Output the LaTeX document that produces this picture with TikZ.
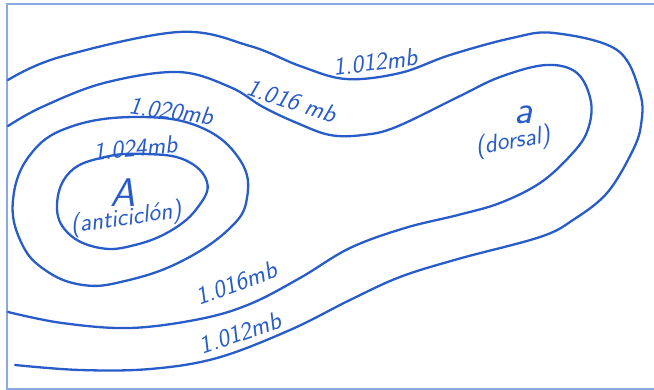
\documentclass[tikz,border=0pt]{standalone}
\usepackage{tikz}
\usetikzlibrary{
  positioning % 节点相对定位
}
\definecolor{isoblue}{RGB}{40,92,200}
\definecolor{frameblue}{RGB}{140,168,225}

\begin{document}
\begin{tikzpicture}[x=1pt, y=-1pt,
  isoline/.style={line width=2.3pt, isoblue, line cap=round, line join=round},
  isolabel/.style={text=isoblue, inner sep=0pt, font=\sffamily\itshape\fontsize{25}{27}\selectfont},
  centrename/.style={text=isoblue, inner sep=0pt, font=\sffamily\itshape\fontsize{40}{42}\selectfont}]
  % 画布大小（与原图一致）
  \useasboundingbox (0,0) rectangle (654,390);

  % 1. 外框（浅蓝色，右侧开口）
  \draw[line width=1.4pt, frameblue] (654,4) -- (7,4) -- (7,389) -- (654,389);

  % 2. 等压线
  % 1.024 mb（闭合）
  \draw[isoline] plot[smooth cycle, tension=0.7] coordinates {
    (57,205) (70,172) (105,157) (145,154) (185,160) (207,182)
    (198,207) (172,230) (135,245) (100,248) (68,233)};
  % 1.020 mb（闭合）
  \draw[isoline] plot[smooth cycle, tension=0.7] coordinates {
    (13,200) (30,155) (70,127) (137,117) (200,127) (240,160)
    (247,198) (229,229) (180,262) (125,281) (83,285) (45,270) (21,242)};
  % 1.016 mb（开口向左）
  \draw[isoline] plot[smooth, tension=0.6] coordinates {
    (8,126) (42,107) (104,83) (178,72) (230,87) (263,107) (297,123)
    (330,135) (363,135) (396,127) (458,97) (500,77) (546,65) (577,73)
    (591,102) (587,132) (570,156) (540,183) (500,203) (458,215)
    (405,228) (350,248) (300,278) (250,304) (200,319) (130,328)
    (62,323) (8,312)};
  % 1.012 mb（开口向左）
  \draw[isoline] plot[smooth, tension=0.6] coordinates {
    (8,80) (60,57) (179,32) (250,46) (300,66) (346,79) (400,73)
    (450,55) (512,38) (554,33) (617,50) (640,93) (641,125) (632,152)
    (607,193) (573,220) (540,237) (458,259) (400,277) (350,300)
    (290,330) (217,358) (150,369) (80,370) (15,365)};

  % 3. 等压线标注
  \node[isolabel, rotate=7]   (p1012a) at (375,62)  {1.012mb};
  \node[isolabel, rotate=-18] (p1016a) at (292,101) {1.016 mb};
  \node[isolabel, rotate=-8]  (p1020)  at (171,111) {1.020mb};
  \node[isolabel, rotate=5]   (p1024)  at (135,148) {1.024mb};
  \node[isolabel, rotate=20]  (p1016b) at (236,283) {1.016mb};
  \node[isolabel, rotate=19]  (p1012b) at (240,333) {1.012mb};

  % 4. 高压中心与脊
  \node[centrename] (anticiclon) at (123,193) {A};
  \node[isolabel, rotate=8] (anticiclontxt) at (126,219) {(anticiclón)};
  \node[centrename] (dorsal) at (524,115) {a};
  \node[isolabel, rotate=10] (dorsaltxt) at (513,142) {(dorsal)};
\end{tikzpicture}
\end{document}
